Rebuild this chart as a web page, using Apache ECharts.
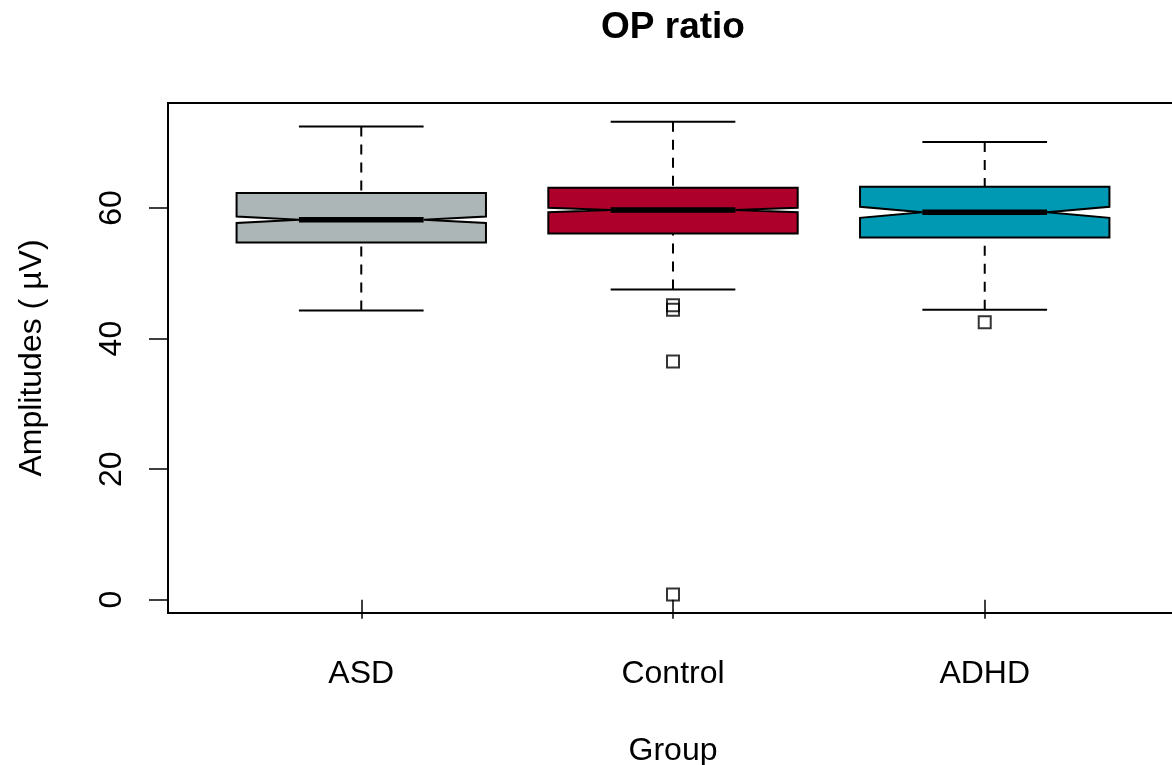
<!DOCTYPE html>
<html><head><meta charset="utf-8">
<script src="https://cdn.jsdelivr.net/npm/echarts@6/dist/echarts.min.js"></script>
<style>html,body{margin:0;padding:0;background:#fff}#c{width:1172px;height:765px}</style>
</head><body><div id="c"></div>
<script>
const categories = ['ASD', 'Control', 'ADHD'];
const lowerWhisker = [44.3, 47.5, 44.4];
const q1 = [54.7, 56.1, 55.5];
const notchLow = [57.7, 59.35, 58.5];
const median = [58.2, 59.7, 59.35];
const notchHigh = [58.7, 60.05, 60.2];
const q3 = [62.3, 63.1, 63.25];
const upperWhisker = [72.5, 73.2, 70.1];
const boxColors = ['#ADB6B6', '#AD002A', '#0099B4'];
const outlierGroup = ['Control', 'Control', 'Control', 'Control', 'ADHD'];
const outlierValue = [45.1, 44.4, 36.5, 0.8, 42.5];
const yTicks = [0, 20, 40, 60];

const FONT = "'Liberation Sans', Arial, sans-serif";

// category k is placed at position k+1 on the x scale (R-style boxplot positions)
const catPos = categories.map((c, i) => i + 1);
const boxData = categories.map((c, i) => [catPos[i], lowerWhisker[i], q1[i], notchLow[i], median[i], notchHigh[i], q3[i], upperWhisker[i]]);
const outlierData = outlierGroup.map((g, k) => [catPos[categories.indexOf(g)], outlierValue[k]]);

function renderBox(params, api) {
  const x = api.value(0);
  const lw = api.value(1), a = api.value(2), nl = api.value(3), m = api.value(4),
        nh = api.value(5), b = api.value(6), hw = api.value(7);
  const unit = api.size([1, 0])[0];
  const hb = unit * 0.4, hm = unit * 0.2;
  const cx = api.coord([x, m])[0];
  const Y = v => api.coord([x, v])[1];
  const color = boxColors[params.dataIndex];
  const dash = { stroke: '#000', lineWidth: 2, lineDash: [10, 8] };
  const solid = { stroke: '#000', lineWidth: 2 };
  return {
    type: 'group',
    children: [
      { type: 'line', shape: { x1: cx, y1: Y(hw), x2: cx, y2: Y(b) }, style: dash },
      { type: 'line', shape: { x1: cx, y1: Y(lw), x2: cx, y2: Y(a) }, style: dash },
      { type: 'line', shape: { x1: cx - hm, y1: Y(hw), x2: cx + hm, y2: Y(hw) }, style: solid },
      { type: 'line', shape: { x1: cx - hm, y1: Y(lw), x2: cx + hm, y2: Y(lw) }, style: solid },
      {
        type: 'polygon',
        shape: {
          points: [
            [cx - hb, Y(a)], [cx + hb, Y(a)], [cx + hb, Y(nl)], [cx + hm, Y(m)], [cx + hb, Y(nh)],
            [cx + hb, Y(b)], [cx - hb, Y(b)], [cx - hb, Y(nh)], [cx - hm, Y(m)], [cx - hb, Y(nl)]
          ]
        },
        style: { fill: color, stroke: '#000', lineWidth: 2, lineJoin: 'miter' }
      },
      { type: 'line', shape: { x1: cx - hm, y1: Y(m), x2: cx + hm, y2: Y(m) }, style: { stroke: '#000', lineWidth: 5.5 } }
    ]
  };
}

const chart = echarts.init(document.getElementById('c'), null, { renderer: 'canvas' });
chart.setOption({
  animation: false,
  backgroundColor: '#ffffff',
  title: {
    text: 'OP ratio',
    left: 601, top: 9, padding: 0,
    textStyle: { fontFamily: FONT, fontSize: 37, fontWeight: 'bold', color: '#000' }
  },
  grid: {
    left: 168, top: 103, right: -6, bottom: 152,
    show: true, borderColor: '#000', borderWidth: 2, backgroundColor: 'transparent',
    outerBoundsMode: 'none', containLabel: false
  },
  xAxis: {
    type: 'value',
    min: 0.38, max: 3.62,
    name: 'Group',
    nameLocation: 'middle',
    nameGap: 122,
    nameTextStyle: { fontFamily: FONT, fontSize: 32, color: '#000' },
    axisLine: { show: false },
    axisTick: { show: true, length: 19, customValues: catPos, lineStyle: { color: '#000', width: 1.5 } },
    axisLabel: {
      fontFamily: FONT, fontSize: 32, color: '#000', margin: 45,
      customValues: catPos,
      formatter: v => categories[catPos.indexOf(v)]
    },
    splitLine: { show: false }
  },
  yAxis: {
    type: 'value',
    min: -2.04, max: 76.09,
    name: 'Amplitudes ( \u00b5V)',
    nameLocation: 'middle',
    nameRotate: 90,
    nameGap: 120,
    nameTextStyle: { fontFamily: FONT, fontSize: 32, color: '#000' },
    axisLine: { show: false },
    axisTick: { show: true, length: 19, customValues: yTicks, lineStyle: { color: '#000', width: 1.5 } },
    axisLabel: { fontFamily: FONT, fontSize: 32, color: '#000', rotate: 90, margin: 40, customValues: yTicks },
    splitLine: { show: false }
  },
  series: [
    {
      type: 'custom',
      renderItem: renderBox,
      data: boxData,
      encode: { x: 0, y: [1, 2, 3, 4, 5, 6, 7] },
      z: 2
    },
    {
      type: 'scatter',
      data: outlierData,
      symbol: 'rect',
      symbolSize: 12,
      itemStyle: { color: 'rgba(0,0,0,0)', borderColor: '#000', borderWidth: 2 },
      z: 3
    }
  ]
});
</script></body></html>
